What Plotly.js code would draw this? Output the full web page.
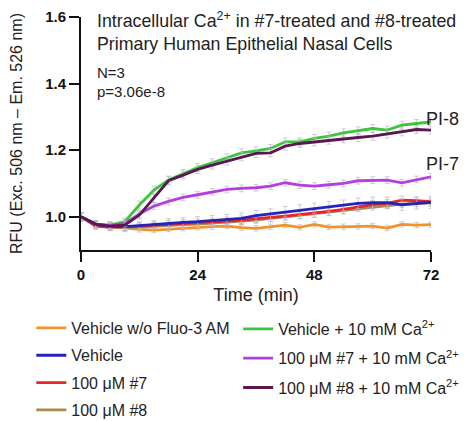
<!DOCTYPE html>
<html>
<head>
<meta charset="utf-8">
<script src="https://cdn.plot.ly/plotly-3.0.1.min.js"></script>
<style>html,body{margin:0;padding:0;background:#fff;}#chart{width:470px;height:421px;}</style>
</head>
<body>
<div id="chart"></div>
<script>
// Time points (min)
const timeMin = [0,3,6,9,12,15,18,21,24,27,30,33,36,39,42,45,48,51,54,57,60,63,66,69,72];

// Series values (RFU)
const vehNoFluo = [1.0,0.975,0.97,0.965,0.962,0.96,0.963,0.966,0.968,0.97,0.972,0.967,0.965,0.97,0.975,0.968,0.977,0.969,0.97,0.971,0.972,0.966,0.977,0.975,0.976];
const vehicle   = [1.0,0.976,0.972,0.97,0.973,0.977,0.98,0.983,0.985,0.988,0.991,0.995,1.003,1.008,1.015,1.02,1.025,1.03,1.034,1.04,1.042,1.042,1.036,1.04,1.043];
const cmpd7     = [1.0,0.972,0.968,0.969,0.972,0.975,0.977,0.979,0.981,0.984,0.987,0.99,0.995,0.998,1.002,1.006,1.01,1.016,1.022,1.03,1.036,1.04,1.05,1.048,1.045];
const cmpd8     = [1.0,0.975,0.97,0.968,0.969,0.972,0.974,0.976,0.978,0.981,0.984,0.986,0.99,0.995,1.0,1.004,1.008,1.013,1.018,1.025,1.03,1.034,1.038,1.04,1.042];
const vehCa     = [1.0,0.978,0.975,0.985,1.035,1.08,1.11,1.13,1.148,1.162,1.177,1.192,1.198,1.205,1.225,1.225,1.235,1.242,1.252,1.258,1.265,1.26,1.275,1.28,1.285];
const cmpd7Ca   = [1.0,0.978,0.973,0.98,1.008,1.032,1.046,1.058,1.066,1.075,1.082,1.085,1.087,1.092,1.102,1.095,1.092,1.096,1.1,1.108,1.11,1.11,1.102,1.112,1.12];
const cmpd8Ca   = [1.0,0.978,0.972,0.975,1.005,1.055,1.108,1.125,1.142,1.155,1.167,1.18,1.19,1.192,1.212,1.22,1.225,1.23,1.234,1.238,1.242,1.248,1.255,1.262,1.26];

// Error (SEM) values
const errVehNoFluo = [0.012,0.01,0.01,0.01,0.008,0.008,0.008,0.008,0.008,0.008,0.008,0.008,0.008,0.008,0.008,0.008,0.008,0.008,0.008,0.008,0.008,0.008,0.008,0.008,0.008];
const errVehicle   = [0.012,0.012,0.012,0.012,0.012,0.012,0.014,0.014,0.015,0.016,0.016,0.016,0.016,0.016,0.016,0.016,0.016,0.016,0.016,0.016,0.017,0.017,0.017,0.017,0.018];
const errCmpd7     = [0.012,0.01,0.01,0.01,0.01,0.01,0.012,0.012,0.012,0.012,0.012,0.012,0.012,0.012,0.012,0.012,0.012,0.012,0.012,0.012,0.012,0.012,0.012,0.012,0.012];
const errCmpd8     = [0.012,0.01,0.01,0.01,0.01,0.01,0.01,0.01,0.01,0.01,0.01,0.01,0.01,0.01,0.01,0.01,0.01,0.01,0.01,0.01,0.01,0.01,0.01,0.01,0.01];
const errVehCa     = [0.012,0.01,0.01,0.01,0.012,0.012,0.012,0.012,0.012,0.012,0.012,0.012,0.012,0.012,0.012,0.012,0.012,0.012,0.012,0.012,0.012,0.012,0.012,0.012,0.012];
const errCmpd7Ca   = [0.012,0.01,0.01,0.01,0.01,0.01,0.01,0.01,0.01,0.01,0.01,0.01,0.01,0.01,0.01,0.01,0.01,0.01,0.01,0.01,0.01,0.01,0.01,0.01,0.01];
const errCmpd8Ca   = [0.012,0.01,0.01,0.01,0.012,0.012,0.012,0.012,0.012,0.012,0.012,0.012,0.012,0.012,0.012,0.012,0.012,0.012,0.012,0.012,0.012,0.012,0.012,0.012,0.012];

// Labels
const seriesNames = [
  "Vehicle w/o Fluo-3 AM",
  "Vehicle",
  "100 μM #7",
  "100 μM #8",
  "Vehicle + 10 mM Ca<sup>2+</sup>",
  "100 μM #7 + 10 mM Ca<sup>2+</sup>",
  "100 μM #8 + 10 mM Ca<sup>2+</sup>"
];
const xTicks = [0,24,48,72];
const yTicks = [1.0,1.2,1.4,1.6];
const yTickText = ["1.0","1.2","1.4","1.6"];

const FONT = "Liberation Sans, Arial, Helvetica, sans-serif";
const errColor = "rgba(185,185,195,0.7)";

function tr(y, err, name, color, legend, rank) {
  return {
    x: timeMin, y: y, name: name, type: "scatter", mode: "lines",
    line: {color: color, width: 2.8},
    error_y: {type: "data", array: err, visible: true, color: errColor, thickness: 1, width: 2.5},
    legend: legend, legendgroup: name, legendrank: rank
  };
}

const data = [
  tr(vehNoFluo, errVehNoFluo, seriesNames[0], "#F0932B", "legend", 1),
  tr(cmpd8, errCmpd8, seriesNames[3], "#A88A4E", "legend", 4),
  tr(cmpd7, errCmpd7, seriesNames[2], "#E5242B", "legend", 3),
  tr(vehicle, errVehicle, seriesNames[1], "#2424B8", "legend", 2),
  tr(vehCa, errVehCa, seriesNames[4], "#3CC43C", "legend2", 1),
  tr(cmpd7Ca, errCmpd7Ca, seriesNames[5], "#B43FE0", "legend2", 2),
  tr(cmpd8Ca, errCmpd8Ca, seriesNames[6], "#5A1752", "legend2", 3)
];

const legendCommon = {
  font: {family: FONT, size: 16, color: "#222"},
  bgcolor: "rgba(0,0,0,0)",
  traceorder: "grouped",
  itemwidth: 30,
  xanchor: "left", yanchor: "top",
  itemclick: false, itemdoubleclick: false
};

const layout = {
  width: 470, height: 421,
  margin: {l: 81, r: 39, t: 17, b: 171, autoexpand: false},
  paper_bgcolor: "#fff", plot_bgcolor: "#fff",
  font: {family: FONT, color: "#222"},
  showlegend: true,
  legend: Object.assign({}, legendCommon, {x: -0.142, y: -0.262, tracegroupgap: 3.5}),
  legend2: Object.assign({}, legendCommon, {x: 0.449, y: -0.266, tracegroupgap: 5.5}),
  xaxis: {
    range: [0, 72], tickvals: xTicks, ticktext: xTicks.map(String),
    showline: true, linecolor: "#111", linewidth: 2,
    ticks: "outside", ticklen: 10, tickwidth: 2, tickcolor: "#111",
    showgrid: false, zeroline: false, automargin: false,
    tickfont: {family: FONT, size: 15, color: "#111", weight: "bold"},
    title: {text: "Time (min)", font: {family: FONT, size: 18, color: "#222"}, standoff: 6}
  },
  yaxis: {
    range: [0.9, 1.6], tickvals: yTicks, ticktext: yTickText,
    showline: true, linecolor: "#111", linewidth: 2,
    ticks: "outside", ticklen: 10, tickwidth: 2, tickcolor: "#111",
    showgrid: false, zeroline: false, automargin: false,
    tickfont: {family: FONT, size: 15, color: "#111", weight: "bold"},
    title: {text: "RFU (Exc. 506 nm – Em. 526 nm)", font: {family: FONT, size: 16, color: "#222"}, standoff: 19}
  },
  annotations: [
    {xref: "paper", yref: "paper", x: 0.04, y: (250-20)/233, xanchor: "left", yanchor: "middle", showarrow: false,
     text: "Intracellular Ca<sup>2+</sup> in #7-treated and #8-treated", font: {family: FONT, size: 17.8, color: "#222"}},
    {xref: "paper", yref: "paper", x: 0.04, y: (250-44)/233, xanchor: "left", yanchor: "middle", showarrow: false,
     text: "Primary Human Epithelial Nasal Cells", font: {family: FONT, size: 17.8, color: "#222"}},
    {xref: "paper", yref: "paper", x: 0.04, y: (250-72)/233, xanchor: "left", yanchor: "middle", showarrow: false,
     text: "N=3", font: {family: FONT, size: 15, color: "#222"}},
    {xref: "paper", yref: "paper", x: 0.04, y: (250-92)/233, xanchor: "left", yanchor: "middle", showarrow: false,
     text: "p=3.06e-8", font: {family: FONT, size: 15, color: "#222"}},
    {xref: "paper", yref: "paper", x: 0.98, y: (250-119)/233, xanchor: "left", yanchor: "middle", showarrow: false,
     text: "PI-8", font: {family: FONT, size: 18, color: "#222"}},
    {xref: "paper", yref: "paper", x: 0.98, y: (250-164)/233, xanchor: "left", yanchor: "middle", showarrow: false,
     text: "PI-7", font: {family: FONT, size: 18, color: "#222"}}
  ]
};

Plotly.newPlot("chart", data, layout, {displayModeBar: false, staticPlot: true});
</script>
</body>
</html>
